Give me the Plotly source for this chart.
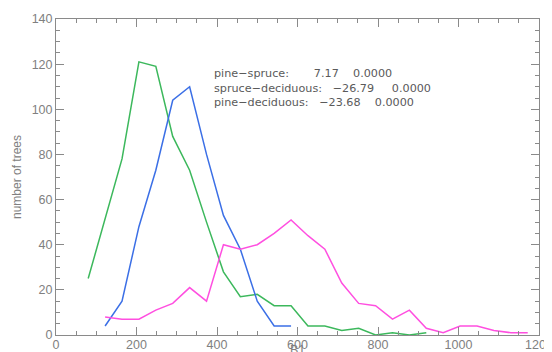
import plotly.graph_objects as go

# ---- data ----
x_green = [80, 122, 164, 206, 248, 290, 332, 374, 416, 458, 500, 542, 584,
           626, 668, 710, 752, 794, 836, 878, 920]
y_green = [25, 52, 78, 121, 119, 88, 73, 50, 28, 17, 18, 13, 13,
           4, 4, 2, 3, 0, 1, 0, 1]

x_blue = [122, 164, 206, 248, 290, 332, 374, 416, 458, 500, 542, 584]
y_blue = [4, 15, 48, 73, 104, 110, 80, 53, 38, 15, 4, 4]

x_pink = [122, 164, 206, 248, 290, 332, 374, 416, 458, 500, 542, 584, 626,
          668, 710, 752, 794, 836, 878, 920, 962, 1004, 1046, 1088, 1130, 1172]
y_pink = [8, 7, 7, 11, 14, 21, 15, 40, 38, 40, 45, 51, 44,
          38, 23, 14, 13, 7, 11, 3, 1, 4, 4, 2, 1, 1]

pair_labels = ["pine−spruce:", "spruce−deciduous:", "pine−deciduous:"]
t_values = ["7.17", "−26.79", "−23.68"]
p_values = ["0.0000", "0.0000", "0.0000"]

x_ticks = [0, 200, 400, 600, 800, 1000, 1200]
y_ticks = [0, 20, 40, 60, 80, 100, 120, 140]

x_title = "B1"
y_title = "number of trees"

# ---- figure ----
fig = go.Figure()
fig.add_trace(go.Scatter(x=x_green, y=y_green, mode="lines",
                         line=dict(color="#3cb85c", width=1.5), showlegend=False))
fig.add_trace(go.Scatter(x=x_blue, y=y_blue, mode="lines",
                         line=dict(color="#3b6fe6", width=1.5), showlegend=False))
fig.add_trace(go.Scatter(x=x_pink, y=y_pink, mode="lines",
                         line=dict(color="#ff4fe0", width=1.5), showlegend=False))

NB = "\u00a0"
gap1 = [7, 3, 3]
gap2 = [4, 5, 4]
lines = [pair_labels[i] + NB * gap1[i] + t_values[i] + NB * gap2[i] + p_values[i]
         for i in range(3)]

axis_common = dict(
    showline=True, linecolor="#8a8a8a", linewidth=1, mirror="ticks",
    ticks="inside", ticklen=8, tickcolor="#8a8a8a", tickwidth=1,
    showgrid=False, zeroline=False, automargin=False, ticklabeloverflow="allow",
    tickfont=dict(family="Liberation Sans, Arial, sans-serif", size=12.5, color="#808080"),
)

# the page body has an 8px default margin, so the canvas is sized to fit the window
fig.update_layout(
    width=544, height=344,
    margin=dict(l=48, r=13, t=11, b=16.5),
    paper_bgcolor="white", plot_bgcolor="white",
    xaxis=dict(range=[0, 1200.001], tickmode="array", tickvals=x_ticks,
               ticktext=[str(v) for v in x_ticks], ticklabelstandoff=-2,
               minor=dict(dtick=50, tick0=0, ticks="inside", ticklen=4, tickcolor="#8a8a8a"),
               **axis_common),
    yaxis=dict(range=[0, 140.001], tickmode="array", tickvals=y_ticks,
               ticktext=[str(v) for v in y_ticks],
               minor=dict(dtick=5, tick0=0, ticks="inside", ticklen=4, tickcolor="#8a8a8a"),
               **axis_common),
    annotations=[
        dict(text="<br>".join(lines), xref="x", yref="y", x=388, y=119.5,
             xanchor="left", yanchor="top", align="left", showarrow=False,
             font=dict(family="DejaVu Sans", size=11.2, color="#5a5a5a")),
        dict(text=y_title, xref="paper", yref="paper", x=0, y=0.5, xshift=-39,
             xanchor="center", yanchor="middle", textangle=-90, showarrow=False,
             font=dict(family="Liberation Sans, Arial, sans-serif", size=12, color="#808080")),
        dict(text=x_title, xref="paper", yref="paper", x=0.5, y=0, yshift=-6,
             xanchor="center", yanchor="top", showarrow=False,
             font=dict(family="Liberation Sans, Arial, sans-serif", size=12.5, color="#808080")),
    ],
)

fig.write_html("out.html")
